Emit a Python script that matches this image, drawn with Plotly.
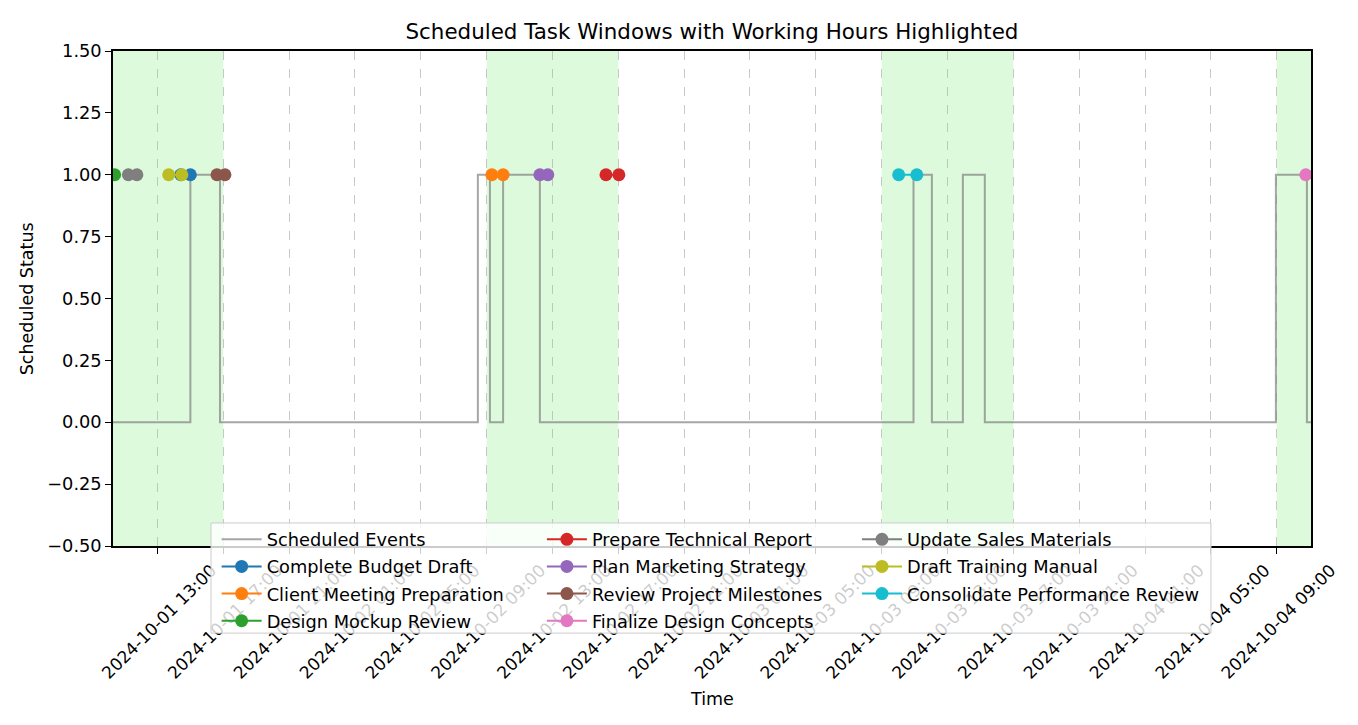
import pandas as pd
import plotly.graph_objects as go

# ---- data ----
tasks = [
    "Complete Budget Draft",
    "Client Meeting Preparation",
    "Design Mockup Review",
    "Prepare Technical Report",
    "Plan Marketing Strategy",
    "Review Project Milestones",
    "Finalize Design Concepts",
    "Update Sales Materials",
    "Draft Training Manual",
    "Consolidate Performance Review",
]
task_starts = [
    "2024-10-01 14:25", "2024-10-02 09:19", "2024-10-01 10:00", "2024-10-02 16:15",
    "2024-10-02 12:14", "2024-10-01 16:37", "2024-10-04 10:46", "2024-10-01 11:14",
    "2024-10-01 13:41", "2024-10-03 10:02",
]
task_ends = [
    "2024-10-01 15:00", "2024-10-02 10:00", "2024-10-01 10:24", "2024-10-02 17:02",
    "2024-10-02 12:43", "2024-10-01 17:06", "2024-10-04 11:40", "2024-10-01 11:45",
    "2024-10-01 14:29", "2024-10-03 11:08",
]
task_colors = ["#1f77b4", "#ff7f0e", "#2ca02c", "#d62728", "#9467bd",
               "#8c564b", "#e377c2", "#7f7f7f", "#bcbd22", "#17becf"]

step_times = [
    "2024-10-01 10:18", "2024-10-01 15:00", "2024-10-01 16:48",
    "2024-10-02 08:28", "2024-10-02 09:12", "2024-10-02 10:00", "2024-10-02 12:14",
    "2024-10-03 10:56", "2024-10-03 12:03", "2024-10-03 13:56", "2024-10-03 15:16",
    "2024-10-04 08:57", "2024-10-04 10:50", "2024-10-04 11:05",
]
step_values = [0, 1, 0, 1, 0, 1, 0, 1, 0, 1, 0, 1, 0, 0]

work_days = ["2024-10-01", "2024-10-02", "2024-10-03", "2024-10-04"]
work_start_hour = 9
work_end_hour = 17

x_range = ["2024-10-01 10:18", "2024-10-04 11:05"]
y_range = [-0.5, 1.5]

tick_labels = [
    "2024-10-01 13:00", "2024-10-01 17:00", "2024-10-01 21:00", "2024-10-02 01:00",
    "2024-10-02 05:00", "2024-10-02 09:00", "2024-10-02 13:00", "2024-10-02 17:00",
    "2024-10-02 21:00", "2024-10-03 01:00", "2024-10-03 05:00", "2024-10-03 09:00",
    "2024-10-03 13:00", "2024-10-03 17:00", "2024-10-03 21:00", "2024-10-04 01:00",
    "2024-10-04 05:00", "2024-10-04 09:00",
]

FONT = "DejaVu Sans"
W, H = 1342, 705  # page body has an 8px margin

# legend: three columns of four rows, filled column by column
legend_cols = ["legend", "legend2", "legend3"]
legend_x = [0.0865, 0.358, 0.621]
n_rows = 4

fig = go.Figure()

# step line of scheduled events
fig.add_trace(go.Scatter(
    x=step_times, y=step_values,
    mode="lines", line_shape="hv",
    line=dict(color="rgba(128,128,128,0.7)", width=2),
    name="Scheduled Events", legend="legend", legendgroup="g0",
))

for i, (name, s, e, c) in enumerate(zip(tasks, task_starts, task_ends, task_colors)):
    pos = i + 1
    fig.add_trace(go.Scatter(
        x=[s, e], y=[1, 1],
        mode="lines+markers",
        line=dict(color=c, width=2),
        marker=dict(color=c, size=13),
        name=name, legend=legend_cols[pos // n_rows], legendgroup=f"g{pos}",
    ))

# working hours shading
xmin, xmax = pd.Timestamp(x_range[0]), pd.Timestamp(x_range[1])
for d in work_days:
    day = pd.Timestamp(d)
    x0 = max(day + pd.Timedelta(hours=work_start_hour), xmin)
    x1 = min(day + pd.Timedelta(hours=work_end_hour), xmax)
    if x1 <= x0:
        continue
    fig.add_shape(type="rect", xref="x", yref="y",
                  x0=x0, x1=x1, y0=y_range[0], y1=y_range[1],
                  fillcolor="rgba(144,238,144,0.3)", line_width=0, layer="below")

# legend frame (semi-transparent, drawn over the tick labels)
fig.add_shape(type="rect", xref="paper", yref="paper",
              x0=0.0818, x1=0.9165, y0=-0.176, y1=0.0465,
              fillcolor="rgba(255,255,255,0.8)",
              line=dict(color="#cccccc", width=1), layer="above")

fig.add_annotation(x=0.5, y=-0.309, xref="paper", yref="paper",
                   text="Time", showarrow=False,
                   xanchor="center", yanchor="middle",
                   font=dict(size=17.5, color="black", family=FONT))
fig.add_annotation(x=-0.072, y=0.5, xref="paper", yref="paper",
                   text="Scheduled Status", textangle=-90, showarrow=False,
                   xanchor="center", yanchor="middle",
                   font=dict(size=17.5, color="black", family=FONT))

legend_style = dict(orientation="v", xanchor="left", y=0.050, yanchor="top",
                    itemwidth=40, tracegroupgap=1, bgcolor="rgba(0,0,0,0)",
                    borderwidth=0, font=dict(size=17.8, family=FONT, color="black"))

fig.update_layout(
    width=W, height=H,
    margin=dict(l=105, r=39, t=43, b=167),
    plot_bgcolor="white", paper_bgcolor="white",
    font=dict(family=FONT, size=17, color="black"),
    title=dict(text="Scheduled Task Windows with Working Hours Highlighted",
               x=0.5, xref="paper", y=1 - 24 / H, yref="container",
               xanchor="center", yanchor="middle",
               font=dict(size=21.4, family=FONT, color="black")),
    showlegend=True,
    legend=dict(x=legend_x[0], **legend_style),
    legend2=dict(x=legend_x[1], **legend_style),
    legend3=dict(x=legend_x[2], **legend_style),
)

fig.update_xaxes(
    type="date", range=x_range,
    tickmode="array", tickvals=tick_labels, tickformat="%Y-%m-%d %H:%M",
    tickangle=-45, ticklabelshift=54, ticklabelstandoff=0,
    tickfont=dict(size=17, family=FONT, color="black"),
    ticks="outside", ticklen=6, tickcolor="black",
    showline=True, linecolor="black", linewidth=1.5, mirror=True,
    showgrid=True, gridcolor="rgba(176,176,176,0.7)", griddash="dash", gridwidth=1,
    zeroline=False, automargin=False,
)
fig.update_yaxes(
    range=y_range, dtick=0.25, tickformat=".2f",
    ticks="outside", ticklen=6, tickcolor="black",
    tickfont=dict(size=17.8, family=FONT, color="black"),
    showline=True, linecolor="black", linewidth=1.5, mirror=True,
    showgrid=False, zeroline=False, automargin=False,
)

fig.write_html("out.html")
